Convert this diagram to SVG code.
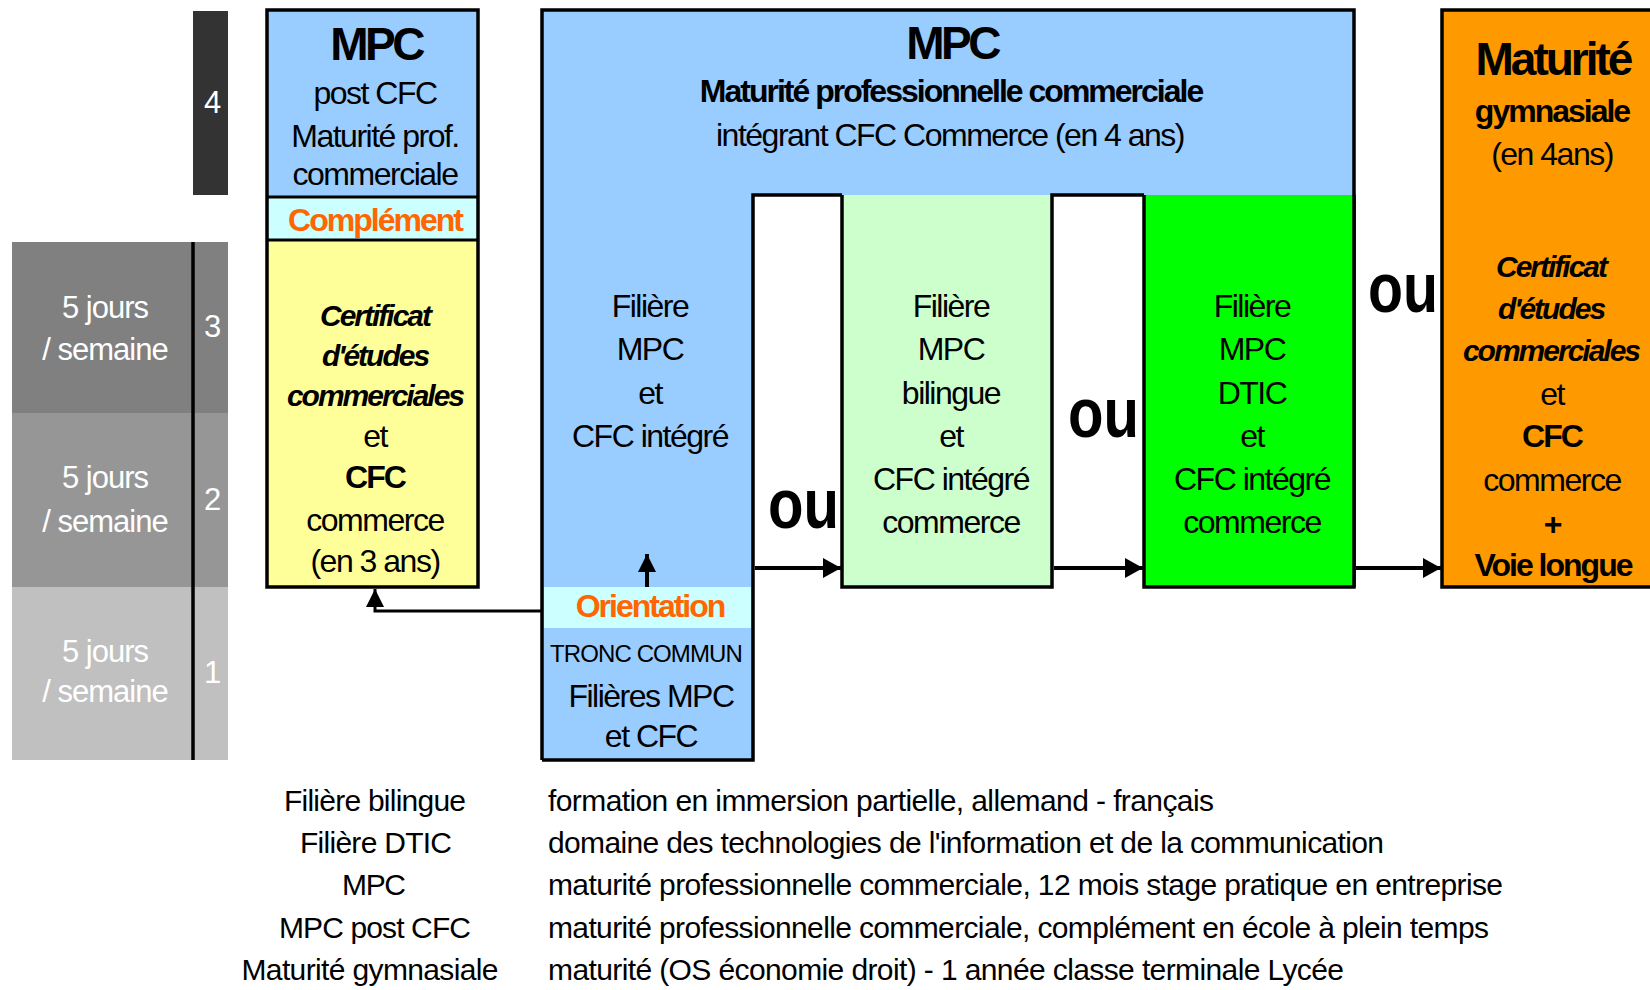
<svg xmlns="http://www.w3.org/2000/svg" width="1650" height="990" viewBox="0 0 1650 990">
<defs>
<style>
text{font-family:"Liberation Sans",Arial,sans-serif;text-anchor:middle;fill:#000}
.r{font-size:32px;letter-spacing:-1.5px}
.b{font-size:32px;font-weight:bold;letter-spacing:-2px}
.bi{font-size:30px;font-weight:bold;font-style:italic;letter-spacing:-2px}
.big{font-size:46px;font-weight:bold;letter-spacing:-3.5px}
.ou{font-size:70px;font-weight:bold;text-anchor:start}
.w{fill:#fff;font-size:31px;letter-spacing:-1px}
.or{fill:#FF6600}
.lg{font-size:30px}
.lgl{font-size:30px;text-anchor:start}
.bd{fill:none;stroke:#000;stroke-width:3.5}
.cn{fill:none;stroke:#000;stroke-width:4}
</style>
<marker id="ah" viewBox="0 0 18 20" refX="18" refY="10" markerWidth="18" markerHeight="20" markerUnits="userSpaceOnUse" orient="auto">
<path d="M0,0 L18,10 L0,20 Z" fill="#000"/>
</marker>
<marker id="ahs" viewBox="0 0 18 18" refX="18" refY="9" markerWidth="18" markerHeight="18" markerUnits="userSpaceOnUse" orient="auto">
<path d="M0,0 L18,9 L0,18 Z" fill="#000"/>
</marker>
</defs>
<rect width="1650" height="990" fill="#fff"/>

<g id="year-scale">
<rect x="193" y="11" width="35" height="184" fill="#333333"/>
<text class="w" x="212" y="113">4</text>
<rect x="12" y="242" width="216" height="171" fill="#808080"/>
<rect x="12" y="413" width="216" height="174" fill="#969696"/>
<rect x="12" y="587" width="216" height="173" fill="#C0C0C0"/>
<line x1="193" y1="242" x2="193" y2="760" stroke="#000" stroke-width="3.5"/>
<text class="w" x="105" y="318">5 jours</text>
<text class="w" x="105" y="360">/ semaine</text>
<text class="w" x="212" y="337">3</text>
<text class="w" x="105" y="488">5 jours</text>
<text class="w" x="105" y="532">/ semaine</text>
<text class="w" x="212" y="510">2</text>
<text class="w" x="105" y="662">5 jours</text>
<text class="w" x="105" y="702">/ semaine</text>
<text class="w" x="212" y="683">1</text>
</g>

<g id="mpc-post-cfc">
<rect x="267" y="10" width="211" height="187" fill="#99CCFF"/>
<rect x="267" y="197" width="211" height="43" fill="#CCFFFF"/>
<rect x="267" y="240" width="211" height="347" fill="#FFFF99"/>
<rect class="bd" x="267" y="10" width="211" height="577"/>
<line x1="267" y1="197" x2="478" y2="197" stroke="#000" stroke-width="3"/>
<line x1="267" y1="240" x2="478" y2="240" stroke="#000" stroke-width="3"/>
<text class="big" x="376" y="60">MPC</text>
<text class="r" x="375" y="104">post CFC</text>
<text class="r" x="375" y="147">Maturité prof.</text>
<text class="r" x="375" y="185">commerciale</text>
<text class="b or" x="375" y="231">Complément</text>
<text class="bi" x="375" y="326">Certificat</text>
<text class="bi" x="375" y="366">d'études</text>
<text class="bi" x="375" y="406">commerciales</text>
<text class="r" x="375" y="447">et</text>
<text class="b" x="375" y="488">CFC</text>
<text class="r" x="375" y="531">commerce</text>
<text class="r" x="375" y="572">(en 3 ans)</text>
</g>

<g id="mpc-main">
<path d="M542,10 H1354 V195 H753 V760 H542 Z" fill="#99CCFF"/>
<path class="bd" d="M542,760 V10 H1354 V587"/>
<text class="big" x="952" y="59">MPC</text>
<text class="b" x="951" y="102">Maturité professionnelle commerciale</text>
<text class="r" x="950" y="146">intégrant CFC Commerce (en 4 ans)</text>
</g>

<g id="filiere-mpc">
<path class="bd" d="M542,760 H753 V195 H842"/>
<text class="r" x="650" y="317">Filière</text>
<text class="r" x="650" y="360">MPC</text>
<text class="r" x="650" y="404">et</text>
<text class="r" x="650" y="447">CFC intégré</text>
</g>

<g id="tronc-commun">
<rect x="544" y="587" width="207" height="41" fill="#CCFFFF"/>
<text class="b or" x="650" y="617">Orientation</text>
<text x="646" y="662" style="font-size:24px;letter-spacing:-0.9px">TRONC COMMUN</text>
<text class="r" x="651" y="707">Filières MPC</text>
<text class="r" x="651" y="747">et CFC</text>
</g>

<g id="filiere-bilingue">
<rect x="842" y="195" width="210" height="392" fill="#CCFFCC"/>
<path class="bd" d="M842,195 V587 H1052 V195 H1144"/>
<text class="r" x="951" y="317">Filière</text>
<text class="r" x="951" y="360">MPC</text>
<text class="r" x="951" y="404">bilingue</text>
<text class="r" x="951" y="447">et</text>
<text class="r" x="951" y="490">CFC intégré</text>
<text class="r" x="951" y="533">commerce</text>
</g>

<g id="filiere-dtic">
<rect x="1144" y="195" width="210" height="392" fill="#00FF00"/>
<path class="bd" d="M1144,195 V587 H1354 V195"/>
<text class="r" x="1252" y="317">Filière</text>
<text class="r" x="1252" y="360">MPC</text>
<text class="r" x="1252" y="404">DTIC</text>
<text class="r" x="1252" y="447">et</text>
<text class="r" x="1252" y="490">CFC intégré</text>
<text class="r" x="1252" y="533">commerce</text>
</g>

<g id="maturite-gymnasiale">
<rect x="1442" y="10" width="220" height="577" fill="#FF9900" stroke="#000" stroke-width="3.5"/>
<text class="big" x="1553" y="75" style="letter-spacing:-3px">Maturité</text>
<text class="b" x="1552" y="122">gymnasiale</text>
<text class="r" x="1552" y="165">(en 4ans)</text>
<text class="bi" x="1551" y="277">Certificat</text>
<text class="bi" x="1551" y="319">d'études</text>
<text class="bi" x="1551" y="361">commerciales</text>
<text class="r" x="1552" y="405">et</text>
<text class="b" x="1552" y="447">CFC</text>
<text class="r" x="1552" y="491">commerce</text>
<text class="b" x="1552" y="535">+</text>
<text class="b" x="1553" y="576">Voie longue</text>
</g>

<g id="connectors">
<path class="cn" d="M755,568 H841" marker-end="url(#ah)"/>
<path class="cn" d="M1054,568 H1143" marker-end="url(#ah)"/>
<path class="cn" d="M1356,568 H1441" marker-end="url(#ah)"/>
<path class="cn" d="M647,587 V554" stroke-width="3.5" marker-end="url(#ahs)"/>
<path d="M543,611 H375 V589" fill="none" stroke="#000" stroke-width="3" marker-end="url(#ahs)"/>
<text class="ou" x="768" y="528" textLength="71" lengthAdjust="spacingAndGlyphs">ou</text>
<text class="ou" x="1068" y="437" textLength="71" lengthAdjust="spacingAndGlyphs">ou</text>
<text class="ou" x="1368" y="312" textLength="70" lengthAdjust="spacingAndGlyphs">ou</text>
</g>

<g id="legend">
<text class="lg" x="375" y="811" textLength="182" lengthAdjust="spacing">Filière bilingue</text>
<text class="lg" x="376" y="853" textLength="152" lengthAdjust="spacing">Filière DTIC</text>
<text class="lg" x="374" y="895" textLength="64" lengthAdjust="spacing">MPC</text>
<text class="lg" x="375" y="938" textLength="192" lengthAdjust="spacing">MPC post CFC</text>
<text class="lg" x="370" y="980" textLength="257" lengthAdjust="spacing">Maturité gymnasiale</text>
<text class="lgl" x="548" y="811" textLength="666" lengthAdjust="spacing">formation en immersion partielle, allemand - français</text>
<text class="lgl" x="548" y="853" textLength="836" lengthAdjust="spacing">domaine des technologies de l'information et de la communication</text>
<text class="lgl" x="548" y="895" textLength="955" lengthAdjust="spacing">maturité professionnelle commerciale, 12 mois stage pratique en entreprise</text>
<text class="lgl" x="548" y="938" textLength="941" lengthAdjust="spacing">maturité professionnelle commerciale, complément en école à plein temps</text>
<text class="lgl" x="548" y="980" textLength="796" lengthAdjust="spacing">maturité (OS économie droit) - 1 année classe terminale Lycée</text>
</g>
</svg>
